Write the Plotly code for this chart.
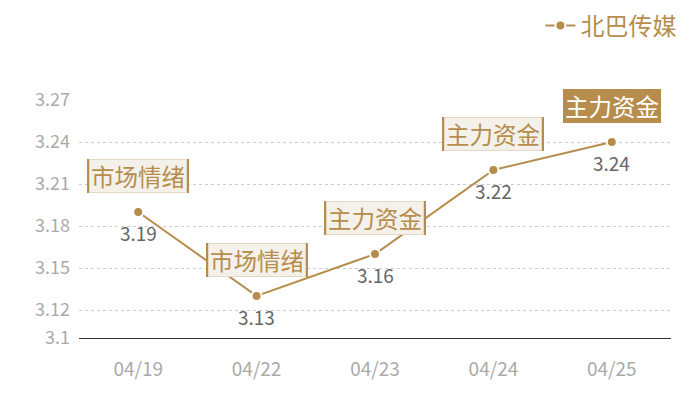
import plotly.graph_objects as go

# data
dates = ["04/19", "04/22", "04/23", "04/24", "04/25"]
prices = [3.19, 3.13, 3.16, 3.22, 3.24]
tags = ["市场情绪", "市场情绪", "主力资金", "主力资金", "主力资金"]
y_ticks = [3.1, 3.12, 3.15, 3.18, 3.21, 3.24, 3.27]

GOLD = "#b68d4c"
FONT = "Noto Sans CJK SC"

fig = go.Figure()

fig.add_trace(go.Scatter(
    x=dates, y=prices, name="北巴传媒",
    mode="lines+markers",
    line=dict(color=GOLD, width=2),
    marker=dict(color=GOLD, size=10, line=dict(color="white", width=2)),
))

for i, (d, p, t) in enumerate(zip(dates, prices, tags)):
    last = i == len(dates) - 1
    # value label under the point
    fig.add_annotation(
        x=d, y=p, text=f"{p:.2f}", showarrow=False, yshift=-20,
        font=dict(size=19, family=FONT, color="#666666"),
    )
    # tag box above the point, the last one highlighted
    tag_font = dict(size=23.5, family=FONT, color="white" if last else GOLD)
    if last:
        fig.add_annotation(
            x=d, y=p, text=t, showarrow=False, yshift=36, font=tag_font,
            width=94, height=30, bgcolor=GOLD,
            bordercolor=GOLD, borderwidth=1, borderpad=1,
        )
    else:
        # wider gold box behind gives the thick side edges
        fig.add_annotation(
            x=d, y=p, text="", showarrow=False, yshift=36, font=tag_font,
            width=98, height=30, bgcolor=GOLD,
            bordercolor=GOLD, borderwidth=1, borderpad=1,
        )
        fig.add_annotation(
            x=d, y=p, text=t, showarrow=False, yshift=36, font=tag_font,
            width=94, height=30, bgcolor="#f4f0ea",
            bordercolor="#e6d9c4", borderwidth=1, borderpad=1,
        )

# the page sits 8px in from the window corner, margins allow for that
fig.update_layout(
    width=700, height=400,
    margin=dict(l=71, r=37, t=92, b=70, autoexpand=False),
    plot_bgcolor="white", paper_bgcolor="white",
    font=dict(family=FONT),
    showlegend=True,
    legend=dict(xref="container", yref="container", x=0.962, y=0.955,
                xanchor="right", yanchor="middle",
                font=dict(size=24, color=GOLD, family=FONT),
                bgcolor="rgba(0,0,0,0)"),
    xaxis=dict(
        range=[-0.5, len(dates) - 0.5], automargin=False,
        showgrid=False, zeroline=False,
        showline=True, linecolor="#333333", linewidth=1,
        tickfont=dict(size=19, color="#aaaaaa", family=FONT),
        ticks="", ticklabelstandoff=14,
    ),
    yaxis=dict(
        range=[3.1, 3.27], tickvals=y_ticks, automargin=False,
        ticktext=[str(v) for v in y_ticks],
        showgrid=True, gridcolor="#cccccc", griddash="dot", gridwidth=1,
        showline=False, zeroline=False,
        tickfont=dict(size=18, color="#aaaaaa", family=FONT),
        ticks="", ticklabelstandoff=8,
    ),
)

fig.write_html("out.html")
